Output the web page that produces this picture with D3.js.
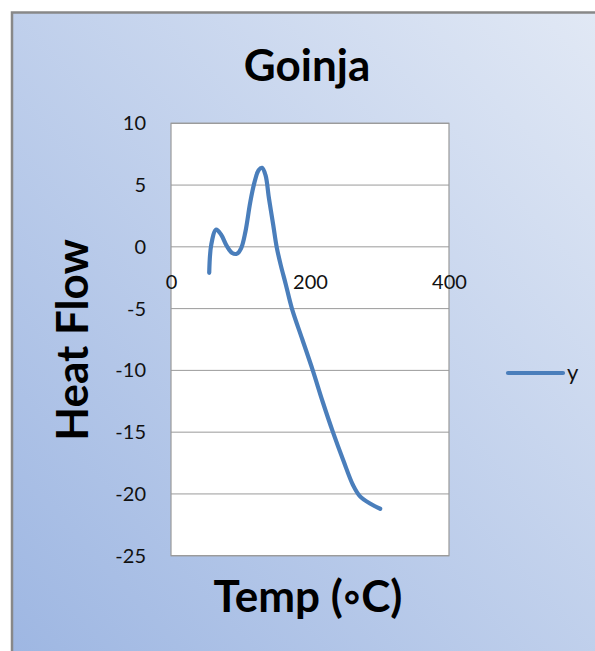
<!DOCTYPE html>
<html>
<head>
<meta charset="utf-8">
<script src="https://cdn.jsdelivr.net/npm/d3@7"></script>
<style>
  html, body { margin: 0; padding: 0; background: #fff; }
  svg { display: block; }
</style>
</head>
<body>
<svg id="chart" width="595" height="651"></svg>
<script>
// temperature (°C)
const temps = [55, 58, 65, 72, 80, 88, 95, 101, 107, 114, 120, 126, 131, 136, 141, 147, 152, 158, 165, 174, 189, 204, 218, 233, 248, 262, 272, 287, 301];
// heat flow
const heatFlow = [-2.1, 0.2, 1.4, 1.0, 0.1, -0.5, -0.55, -0.1, 1.2, 3.6, 5.2, 6.2, 6.4, 5.8, 3.9, 1.8, 0, -1.5, -3.0, -5.0, -7.5, -10, -12.5, -15, -17.3, -19.3, -20.2, -20.8, -21.2];
const xTicks = [0, 200, 400];
const yTicks = [10, 5, 0, -5, -10, -15, -20, -25];
const seriesName = "y";

const data = temps.map((t, i) => ({x: t, y: heatFlow[i]}));

const svg = d3.select("#chart");
const font = "Lato, 'Open Sans', sans-serif";

// chart area background
let defs = svg.append("defs");
let grad = defs.append("linearGradient")
  .attr("id", "bg")
  .attr("x1", 0).attr("y1", 1)
  .attr("x2", 1).attr("y2", 0);
grad.append("stop").attr("offset", 0).attr("stop-color", "#9db6e2");
grad.append("stop").attr("offset", 1).attr("stop-color", "#e2e9f5");

svg.append("rect")
  .attr("x", 12).attr("y", 12.5)
  .attr("width", 600).attr("height", 660)
  .attr("fill", "url(#bg)")
  .attr("stroke", "#888")
  .attr("stroke-width", 2.5);

const plot = {left: 171, right: 449, top: 123.3, bottom: 555.7};

const x = d3.scaleLinear().domain([0, 400]).range([plot.left, plot.right]);
const y = d3.scaleLinear().domain([-25, 10]).range([plot.bottom, plot.top]);

svg.append("rect")
  .attr("x", plot.left).attr("y", plot.top)
  .attr("width", plot.right - plot.left)
  .attr("height", plot.bottom - plot.top)
  .attr("fill", "#fff");

// gridlines
svg.append("g")
  .selectAll("line")
  .data(yTicks)
  .join("line")
  .attr("x1", plot.left).attr("x2", plot.right)
  .attr("y1", d => y(d)).attr("y2", d => y(d))
  .attr("stroke", "#9a9a9a")
  .attr("stroke-width", 1);

svg.append("rect")
  .attr("x", plot.left).attr("y", plot.top)
  .attr("width", plot.right - plot.left)
  .attr("height", plot.bottom - plot.top)
  .attr("fill", "none")
  .attr("stroke", "#9a9a9a")
  .attr("stroke-width", 1.2);

// y axis labels (plain hyphen, like the original)
let yAxis = svg.append("g")
  .attr("transform", `translate(${plot.left - 25},0)`)
  .call(d3.axisLeft(y).tickValues(yTicks).tickFormat(d => String(d)).tickSize(0).tickPadding(0));
yAxis.select(".domain").remove();
yAxis.selectAll("text")
  .attr("font-family", font)
  .attr("font-size", 20)
  .attr("fill", "#111")
  .attr("dy", "0.32em");

// x axis labels sit well below the zero line
let xAxis = svg.append("g")
  .attr("transform", `translate(0,${y(0) + 28})`)
  .call(d3.axisBottom(x).tickValues(xTicks).tickFormat(d => String(d)).tickSize(0).tickPadding(0));
xAxis.select(".domain").remove();
xAxis.selectAll("text")
  .attr("font-family", font)
  .attr("font-size", 20)
  .attr("fill", "#111")
  .attr("dy", "0.71em");

// series
let line = d3.line()
  .x(d => x(d.x))
  .y(d => y(d.y))
  .curve(d3.curveCatmullRom.alpha(0.5));

svg.append("path")
  .datum(data)
  .attr("d", line)
  .attr("fill", "none")
  .attr("stroke", "#4a7ebb")
  .attr("stroke-width", 4.2)
  .attr("stroke-linecap", "round")
  .attr("stroke-linejoin", "round");

// titles
svg.append("text")
  .attr("x", 307).attr("y", 81)
  .attr("text-anchor", "middle")
  .attr("font-family", font)
  .attr("font-weight", "bold")
  .attr("font-size", 44)
  .attr("fill", "#000")
  .text("Goinja");

svg.append("text")
  .attr("x", 308).attr("y", 612)
  .attr("text-anchor", "middle")
  .attr("font-family", font)
  .attr("font-weight", "bold")
  .attr("font-size", 44)
  .attr("fill", "#000")
  .text("Temp (◦C)");

svg.append("text")
  .attr("transform", "translate(88,340) rotate(-90)")
  .attr("text-anchor", "middle")
  .attr("font-family", font)
  .attr("font-weight", "bold")
  .attr("font-size", 44)
  .attr("fill", "#000")
  .text("Heat Flow");

// legend
let legend = svg.append("g").attr("transform", "translate(508,373)");
legend.append("line")
  .attr("x1", 0).attr("x2", 55)
  .attr("stroke", "#4a7ebb")
  .attr("stroke-width", 4.2)
  .attr("stroke-linecap", "round");
legend.append("text")
  .attr("x", 59).attr("y", 7)
  .attr("font-family", font)
  .attr("font-size", 22)
  .attr("fill", "#111")
  .text(seriesName);
</script>
</body>
</html>
